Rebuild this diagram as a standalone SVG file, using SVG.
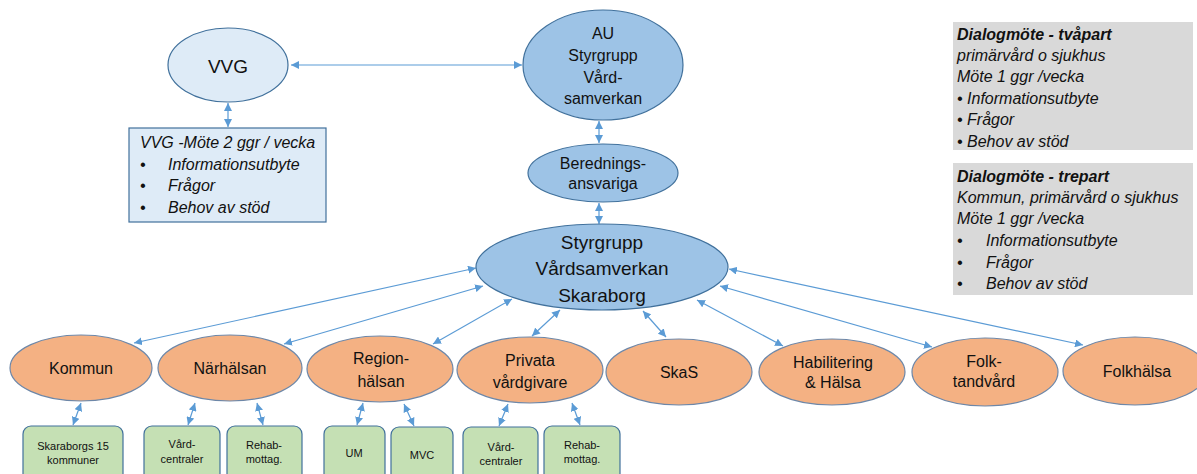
<svg xmlns="http://www.w3.org/2000/svg" width="1197" height="474" viewBox="0 0 1197 474">
<defs>
<marker id="ah" viewBox="0 0 10 10" refX="10" refY="5" markerWidth="8" markerHeight="8" markerUnits="userSpaceOnUse" orient="auto-start-reverse">
<path d="M0,0 L10,5 L0,10 z" fill="#5b9bd5"/>
</marker>
<style>
.t{font-family:"Liberation Sans",Arial,sans-serif;fill:#111;text-anchor:middle}
.it{font-family:"Liberation Sans",Arial,sans-serif;font-style:italic;fill:#111;font-size:16px}
.b{font-weight:bold}
.c{stroke:#5b9bd5;stroke-width:1.2;fill:none;marker-start:url(#ah);marker-end:url(#ah)}
.blue{fill:#9dc3e6;stroke:#41719c;stroke-width:1.2}
.lblue{fill:#deebf7;stroke:#41719c;stroke-width:1.2}
.or{fill:#f4b183;stroke:#6d87a8;stroke-width:1.2}
.gr{fill:#c5e0b4;stroke:#41719c;stroke-width:1.2}
.gy{fill:#d9d9d9}
</style>
</defs>
<rect width="1197" height="474" fill="#fff"/>
<g id="connectors">
<line class="c" x1="291" y1="65" x2="522" y2="65"/>
<line class="c" x1="228" y1="103" x2="228" y2="127"/>
<line class="c" x1="599" y1="121" x2="599" y2="143"/>
<line class="c" x1="599" y1="203" x2="599" y2="224"/>
<line class="c" x1="476" y1="268" x2="134" y2="343"/>
<line class="c" x1="483" y1="286" x2="284" y2="344"/>
<line class="c" x1="512" y1="299" x2="433" y2="344"/>
<line class="c" x1="560" y1="310" x2="532" y2="336"/>
<line class="c" x1="643" y1="311" x2="666" y2="337"/>
<line class="c" x1="697" y1="300" x2="783" y2="346"/>
<line class="c" x1="720" y1="286" x2="932" y2="347"/>
<line class="c" x1="729" y1="269" x2="1083" y2="345"/>
<line class="c" x1="81" y1="403" x2="73" y2="425"/>
<line class="c" x1="195" y1="403" x2="188" y2="425"/>
<line class="c" x1="257" y1="403" x2="263" y2="425"/>
<line class="c" x1="363" y1="403" x2="357" y2="425"/>
<line class="c" x1="404" y1="404" x2="414" y2="426"/>
<line class="c" x1="508" y1="404" x2="499" y2="426"/>
<line class="c" x1="572" y1="403" x2="580" y2="425"/>
</g>
<g id="vvg">
<ellipse class="lblue" cx="228" cy="65" rx="60" ry="37"/>
<text class="t" x="228" y="73" font-size="19">VVG</text>
</g>
<g id="vvg-mote">
<rect class="lblue" x="129" y="128" width="197" height="94"/>
<text class="it" x="140" y="148">VVG -Möte 2 ggr / vecka</text>
<text class="it" x="140" y="170">•</text><text class="it" x="168" y="170">Informationsutbyte</text>
<text class="it" x="140" y="191">•</text><text class="it" x="168" y="191">Frågor</text>
<text class="it" x="140" y="213">•</text><text class="it" x="168" y="213">Behov av stöd</text>
</g>
<g id="au">
<ellipse class="blue" cx="603" cy="65" rx="80" ry="55"/>
<text class="t" font-size="16"><tspan x="603" y="39">AU</tspan><tspan x="603" y="61">Styrgrupp</tspan><tspan x="603" y="83">Vård-</tspan><tspan x="603" y="104">samverkan</tspan></text>
</g>
<g id="beredning">
<ellipse class="blue" cx="603" cy="173" rx="75" ry="29"/>
<text class="t" font-size="16"><tspan x="603" y="169">Berednings-</tspan><tspan x="603" y="189">ansvariga</tspan></text>
</g>
<g id="styrgrupp">
<ellipse class="blue" cx="602" cy="267" rx="126" ry="43"/>
<text class="t" font-size="19"><tspan x="602" y="249">Styrgrupp</tspan><tspan x="602" y="275">Vårdsamverkan</tspan><tspan x="602" y="302">Skaraborg</tspan></text>
</g>
<g id="dialog-tvapart">
<rect class="gy" x="953" y="22" width="240" height="128"/>
<text class="it b" x="957" y="40">Dialogmöte - tvåpart</text>
<text class="it" x="957" y="61">primärvård o sjukhus</text>
<text class="it" x="957" y="82">Möte 1 ggr /vecka</text>
<text class="it" x="957" y="104">• Informationsutbyte</text>
<text class="it" x="957" y="125">• Frågor</text>
<text class="it" x="957" y="147">• Behov av stöd</text>
</g>
<g id="dialog-trepart">
<rect class="gy" x="953" y="163" width="240" height="132"/>
<text class="it b" x="957" y="182">Dialogmöte - trepart</text>
<text class="it" x="957" y="203">Kommun, primärvård o sjukhus</text>
<text class="it" x="957" y="224">Möte 1 ggr /vecka</text>
<text class="it" x="957" y="246">•</text><text class="it" x="986" y="246">Informationsutbyte</text>
<text class="it" x="957" y="268">•</text><text class="it" x="986" y="268">Frågor</text>
<text class="it" x="957" y="289">•</text><text class="it" x="986" y="289">Behov av stöd</text>
</g>
<g id="kommun">
<ellipse class="or" cx="81" cy="368" rx="71" ry="33"/>
<text class="t" x="81" y="374" font-size="16">Kommun</text>
</g>
<g id="narhalsan">
<ellipse class="or" cx="230" cy="368" rx="72" ry="33"/>
<text class="t" x="230" y="374" font-size="16">Närhälsan</text>
</g>
<g id="regionhalsan">
<ellipse class="or" cx="380" cy="369" rx="73" ry="33"/>
<text class="t" font-size="16"><tspan x="381" y="364">Region-</tspan><tspan x="381" y="387">hälsan</tspan></text>
</g>
<g id="privata">
<ellipse class="or" cx="530" cy="370" rx="73" ry="33"/>
<text class="t" font-size="16"><tspan x="530" y="366">Privata</tspan><tspan x="530" y="388">vårdgivare</tspan></text>
</g>
<g id="skas">
<ellipse class="or" cx="679" cy="372" rx="73" ry="33"/>
<text class="t" x="679" y="378" font-size="16">SkaS</text>
</g>
<g id="habilitering">
<ellipse class="or" cx="832" cy="372" rx="73" ry="33"/>
<text class="t" font-size="16"><tspan x="833" y="368">Habilitering</tspan><tspan x="833" y="388">&amp; Hälsa</tspan></text>
</g>
<g id="folktandvard">
<ellipse class="or" cx="985" cy="372" rx="73" ry="34"/>
<text class="t" font-size="16"><tspan x="984" y="367">Folk-</tspan><tspan x="984" y="387">tandvård</tspan></text>
</g>
<g id="folkhalsa">
<ellipse class="or" cx="1135" cy="371" rx="72" ry="34"/>
<text class="t" x="1137" y="377" font-size="16">Folkhälsa</text>
</g>
<g id="skaraborgs">
<rect class="gr" x="23" y="426" width="100" height="60" rx="8"/>
<text class="t" font-size="11"><tspan x="73" y="450">Skaraborgs 15</tspan><tspan x="73" y="464">kommuner</tspan></text>
</g>
<g id="vardcentraler1">
<rect class="gr" x="144" y="426" width="76" height="60" rx="8"/>
<text class="t" font-size="11"><tspan x="182" y="448">Vård-</tspan><tspan x="182" y="463">centraler</tspan></text>
</g>
<g id="rehab1">
<rect class="gr" x="227" y="426" width="75" height="60" rx="8"/>
<text class="t" font-size="11"><tspan x="264" y="449">Rehab-</tspan><tspan x="264" y="463">mottag.</tspan></text>
</g>
<g id="um">
<rect class="gr" x="324" y="426" width="61" height="60" rx="8"/>
<text class="t" x="354" y="457" font-size="11">UM</text>
</g>
<g id="mvc">
<rect class="gr" x="391" y="427" width="62" height="60" rx="8"/>
<text class="t" x="422" y="459" font-size="11">MVC</text>
</g>
<g id="vardcentraler2">
<rect class="gr" x="463" y="427" width="75" height="60" rx="8"/>
<text class="t" font-size="11"><tspan x="501" y="451">Vård-</tspan><tspan x="501" y="465">centraler</tspan></text>
</g>
<g id="rehab2">
<rect class="gr" x="544" y="426" width="76" height="60" rx="8"/>
<text class="t" font-size="11"><tspan x="582" y="449">Rehab-</tspan><tspan x="582" y="463">mottag.</tspan></text>
</g>
</svg>
